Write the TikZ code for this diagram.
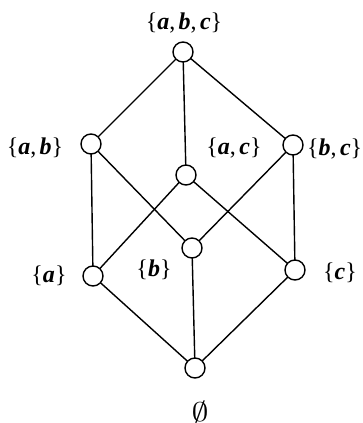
\RequirePackage{fix-cm}
\documentclass[tikz,border=0pt]{standalone}
\usepackage{amsmath,amssymb,graphicx}
\usepackage{fontspec}
\setmainfont{Liberation Serif}
\newcommand{\bi}[1]{\textbf{\textit{#1}}}
\newcommand{\cm}{,\hspace{0.14em}}
\begin{document}
\begin{tikzpicture}[x=1pt,y=-1pt,
  vert/.style={circle,draw=black,fill=white,line width=1.4pt,minimum size=20pt,inner sep=0pt},
  edge/.style={draw=black,line width=1.4pt},
  lbl/.style={font=\fontsize{24}{26}\selectfont,inner sep=0pt}]
\useasboundingbox (0,0) rectangle (362,423);
\coordinate (pabc) at (183,52);
\coordinate (pab) at (91,144);
\coordinate (pbc) at (293,145);
\coordinate (pac) at (186,175);
\coordinate (pb) at (192,248);
\coordinate (pa) at (93,276);
\coordinate (pc) at (295,270);
\coordinate (pe) at (195,368);
\draw[edge] (pabc) -- (pab);
\draw[edge] (pabc) -- (pac);
\draw[edge] (pabc) -- (pbc);
\draw[edge] (pab) -- (pa);
\draw[edge] (pab) -- (pb);
\draw[edge] (pac) -- (pa);
\draw[edge] (pac) -- (pc);
\draw[edge] (pbc) -- (pb);
\draw[edge] (pbc) -- (pc);
\draw[edge] (pa) -- (pe);
\draw[edge] (pb) -- (pe);
\draw[edge] (pc) -- (pe);
\node[vert] (abc) at (pabc) {};
\node[vert] (ab) at (pab) {};
\node[vert] (bc) at (pbc) {};
\node[vert] (ac) at (pac) {};
\node[vert] (b) at (pb) {};
\node[vert] (a) at (pa) {};
\node[vert] (c) at (pc) {};
\node[vert] (e) at (pe) {};
\node[lbl] (labc) at (184,23) {\{\bi{a}\cm\bi{b}\cm\bi{c}\}};
\node[lbl] (lab) at (35,148) {\{\bi{a}\cm\bi{b}\}};
\node[lbl] (lac) at (234,148) {\{\bi{a}\cm\bi{c}\}};
\node[lbl,anchor=west] (lbc) at (307,149) {\{\bi{b}\cm\bi{c}\}};
\node[lbl] (la) at (49,276) {\{\bi{a}\}};
\node[lbl] (lb) at (154,270) {\{\bi{b}\}};
\node[lbl] (lc) at (340,273) {\{\bi{c}\}};
\node[inner sep=0pt] (le) at (200,412) {\scalebox{3.4}[2.7]{\normalsize$\emptyset$}};
\end{tikzpicture}
\end{document}
